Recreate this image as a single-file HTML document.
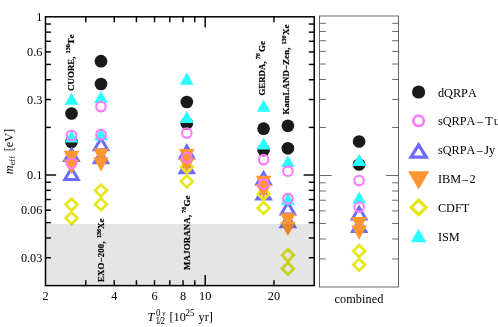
<!DOCTYPE html>
<html><head><meta charset="utf-8"><title>meff</title>
<style>html,body{margin:0;padding:0;background:#fff;}body{width:498px;height:327px;position:relative;overflow:hidden;font-family:"Liberation Serif",serif;}</style></head>
<body>
<svg width="498" height="327" viewBox="0 0 498 327" style="display:block;position:absolute;left:0;top:0;will-change:transform;font-kerning:none;font-variant-ligatures:none">
<circle cx="71.5" cy="113.5" r="6.35" fill="#1a1a1a"/>
<circle cx="71.5" cy="142" r="6.35" fill="#1a1a1a"/>
<circle cx="101" cy="61.2" r="6.35" fill="#1a1a1a"/>
<circle cx="101" cy="84" r="6.35" fill="#1a1a1a"/>
<circle cx="186.8" cy="102" r="6.35" fill="#1a1a1a"/>
<circle cx="186.8" cy="123.3" r="6.35" fill="#1a1a1a"/>
<circle cx="263.6" cy="128.7" r="6.35" fill="#1a1a1a"/>
<circle cx="263.6" cy="150.1" r="6.35" fill="#1a1a1a"/>
<circle cx="287.9" cy="125.8" r="6.35" fill="#1a1a1a"/>
<circle cx="287.9" cy="148.3" r="6.35" fill="#1a1a1a"/>
<circle cx="359.1" cy="141.5" r="6.35" fill="#1a1a1a"/>
<circle cx="359.1" cy="164.5" r="6.35" fill="#1a1a1a"/>
<polygon points="71.5,149.2 64.8,160.6 78.2,160.6" fill="none" stroke="#6c6cff" stroke-width="3" stroke-linejoin="miter" stroke-miterlimit="10"/>
<polygon points="71.5,168.2 64.8,179.6 78.2,179.6" fill="none" stroke="#6c6cff" stroke-width="3" stroke-linejoin="miter" stroke-miterlimit="10"/>
<polygon points="101,138.4 94.3,149.8 107.7,149.8" fill="none" stroke="#6c6cff" stroke-width="3" stroke-linejoin="miter" stroke-miterlimit="10"/>
<polygon points="101,151.4 94.3,162.8 107.7,162.8" fill="none" stroke="#6c6cff" stroke-width="3" stroke-linejoin="miter" stroke-miterlimit="10"/>
<polygon points="186.8,146.1 180.1,158.1 193.5,158.1" fill="none" stroke="#6c6cff" stroke-width="3" stroke-linejoin="miter" stroke-miterlimit="10"/>
<polygon points="186.8,161.3 180.1,172.8 193.5,172.8" fill="none" stroke="#6c6cff" stroke-width="3" stroke-linejoin="miter" stroke-miterlimit="10"/>
<polygon points="263.6,172.6 256.9,184 270.3,184" fill="none" stroke="#6c6cff" stroke-width="3" stroke-linejoin="miter" stroke-miterlimit="10"/>
<polygon points="263.6,187.5 256.9,199 270.3,199" fill="none" stroke="#6c6cff" stroke-width="3" stroke-linejoin="miter" stroke-miterlimit="10"/>
<polygon points="287.9,202.5 281.2,214 294.6,214" fill="none" stroke="#6c6cff" stroke-width="3" stroke-linejoin="miter" stroke-miterlimit="10"/>
<polygon points="287.9,215.2 281.2,226.7 294.6,226.7" fill="none" stroke="#6c6cff" stroke-width="3" stroke-linejoin="miter" stroke-miterlimit="10"/>
<polygon points="359.1,207.3 352.4,219 365.8,219" fill="none" stroke="#6c6cff" stroke-width="3" stroke-linejoin="miter" stroke-miterlimit="10"/>
<polygon points="359.1,220 352.4,231.5 365.8,231.5" fill="none" stroke="#6c6cff" stroke-width="3" stroke-linejoin="miter" stroke-miterlimit="10"/>
<polygon points="71.5,198.71 77.39,204.6 71.5,210.49 65.61,204.6" fill="none" stroke="#e6e61a" stroke-width="2.7" stroke-linejoin="miter"/>
<polygon points="71.5,212.31 77.39,218.2 71.5,224.09 65.61,218.2" fill="none" stroke="#e6e61a" stroke-width="2.7" stroke-linejoin="miter"/>
<polygon points="101,184.61 106.89,190.5 101,196.39 95.11,190.5" fill="none" stroke="#e6e61a" stroke-width="2.7" stroke-linejoin="miter"/>
<polygon points="101,198.41 106.89,204.3 101,210.19 95.11,204.3" fill="none" stroke="#e6e61a" stroke-width="2.7" stroke-linejoin="miter"/>
<polygon points="186.8,161.01 192.69,166.9 186.8,172.79 180.91,166.9" fill="none" stroke="#e6e61a" stroke-width="2.7" stroke-linejoin="miter"/>
<polygon points="186.8,175.61 192.69,181.5 186.8,187.39 180.91,181.5" fill="none" stroke="#e6e61a" stroke-width="2.7" stroke-linejoin="miter"/>
<polygon points="263.6,188.11 269.49,194 263.6,199.89 257.71,194" fill="none" stroke="#e6e61a" stroke-width="2.7" stroke-linejoin="miter"/>
<polygon points="263.6,202.11 269.49,208 263.6,213.89 257.71,208" fill="none" stroke="#e6e61a" stroke-width="2.7" stroke-linejoin="miter"/>
<polygon points="287.9,249.31 293.79,255.2 287.9,261.09 282.01,255.2" fill="none" stroke="#e6e61a" stroke-width="2.7" stroke-linejoin="miter"/>
<polygon points="287.9,262.71 293.79,268.6 287.9,274.49 282.01,268.6" fill="none" stroke="#e6e61a" stroke-width="2.7" stroke-linejoin="miter"/>
<polygon points="359.1,245.21 364.99,251.1 359.1,256.99 353.21,251.1" fill="none" stroke="#e6e61a" stroke-width="2.7" stroke-linejoin="miter"/>
<polygon points="359.1,258.81 364.99,264.7 359.1,270.59 353.21,264.7" fill="none" stroke="#e6e61a" stroke-width="2.7" stroke-linejoin="miter"/>
<polygon points="63.7,150.7 79.3,150.7 71.5,165.1" fill="#ff9632"/>
<polygon points="63.7,159.5 79.3,159.5 71.5,173.9" fill="#ff9632"/>
<polygon points="93.2,148.4 108.8,148.4 101,162.9" fill="#ff9632"/>
<polygon points="93.2,157.2 108.8,157.2 101,171.6" fill="#ff9632"/>
<polygon points="179,148.9 194.6,148.9 186.8,163.3" fill="#ff9632"/>
<polygon points="179,158 194.6,158 186.8,172" fill="#ff9632"/>
<polygon points="255.8,175.8 271.4,175.8 263.6,190.2" fill="#ff9632"/>
<polygon points="255.8,184 271.4,184 263.6,198.3" fill="#ff9632"/>
<polygon points="280.1,213.3 295.7,213.3 287.9,227.7" fill="#ff9632"/>
<polygon points="280.1,222.1 295.7,222.1 287.9,235.9" fill="#ff9632"/>
<polygon points="351.3,216.9 366.9,216.9 359.1,231.3" fill="#ff9632"/>
<polygon points="351.3,225.4 366.9,225.4 359.1,239.7" fill="#ff9632"/>
<polygon points="71.5,92.9 64.6,104.8 78.4,104.8" fill="#2affff"/>
<polygon points="71.5,130.5 64.6,142.4 78.4,142.4" fill="#2affff"/>
<polygon points="101,91.1 94.1,103 107.9,103" fill="#2affff"/>
<polygon points="101,128.3 94.1,140.2 107.9,140.2" fill="#2affff"/>
<polygon points="186.8,72.6 179.9,84.8 193.7,84.8" fill="#2affff"/>
<polygon points="186.8,111 179.9,123 193.7,123" fill="#2affff"/>
<polygon points="263.6,99.7 256.7,111.65 270.5,111.65" fill="#2affff"/>
<polygon points="263.6,137.6 256.7,149.6 270.5,149.6" fill="#2affff"/>
<polygon points="287.9,155.6 281,167.1 294.8,167.1" fill="#2affff"/>
<polygon points="287.9,192.8 281,204.7 294.8,204.7" fill="#2affff"/>
<polygon points="359.1,153.8 352.2,165.9 366,165.9" fill="#2affff"/>
<polygon points="359.1,191.6 352.2,203.5 366,203.5" fill="#2affff"/>
<circle cx="71.5" cy="135.5" r="4.8" fill="none" stroke="#ff78ff" stroke-width="2.1"/>
<circle cx="71.5" cy="163.3" r="4.8" fill="none" stroke="#ff78ff" stroke-width="2.1"/>
<circle cx="101" cy="106.6" r="4.8" fill="none" stroke="#ff78ff" stroke-width="2.1"/>
<circle cx="101" cy="134.7" r="4.8" fill="none" stroke="#ff78ff" stroke-width="2.1"/>
<circle cx="186.8" cy="133" r="4.8" fill="none" stroke="#ff78ff" stroke-width="2.1"/>
<circle cx="186.8" cy="157.5" r="4.8" fill="none" stroke="#ff78ff" stroke-width="2.1"/>
<circle cx="263.6" cy="159.6" r="4.8" fill="none" stroke="#ff78ff" stroke-width="2.1"/>
<circle cx="263.6" cy="184.2" r="4.8" fill="none" stroke="#ff78ff" stroke-width="2.1"/>
<circle cx="287.9" cy="171.2" r="4.8" fill="none" stroke="#ff78ff" stroke-width="2.1"/>
<circle cx="287.9" cy="198.7" r="4.8" fill="none" stroke="#ff78ff" stroke-width="2.1"/>
<circle cx="359.1" cy="180.6" r="4.8" fill="none" stroke="#ff78ff" stroke-width="2.1"/>
<circle cx="359.1" cy="207.1" r="4.8" fill="none" stroke="#ff78ff" stroke-width="2.1"/>
<rect x="45.5" y="224" width="267.7" height="61.6" fill="#000" fill-opacity="0.1"/>
<text transform="translate(73.6,90.9) rotate(-90)" font-family="Liberation Serif, serif" font-weight="bold" fill="#000" stroke="#000" stroke-width="0.2" font-size="8.8" textLength="34.4" lengthAdjust="spacing">CUORE,</text>
<text transform="translate(69.8,53.3) rotate(-90)" font-family="Liberation Serif, serif" font-weight="bold" fill="#000" stroke="#000" stroke-width="0.2" font-size="7.0" textLength="9.15" lengthAdjust="spacingAndGlyphs" style="stroke-width:0.25">130</text>
<text transform="translate(73.6,44.5) rotate(-90)" font-family="Liberation Serif, serif" font-weight="bold" fill="#000" stroke="#000" stroke-width="0.2" font-size="9.1">Te</text>
<text transform="translate(104,282) rotate(-90)" font-family="Liberation Serif, serif" font-weight="bold" fill="#000" stroke="#000" stroke-width="0.2" font-size="8.8" textLength="40.6" lengthAdjust="spacing">EXO−200,</text>
<text transform="translate(101,238) rotate(-90)" font-family="Liberation Serif, serif" font-weight="bold" fill="#000" stroke="#000" stroke-width="0.2" font-size="7.0" textLength="9.15" lengthAdjust="spacingAndGlyphs" style="stroke-width:0.25">136</text>
<text transform="translate(104,229.1) rotate(-90)" font-family="Liberation Serif, serif" font-weight="bold" fill="#000" stroke="#000" stroke-width="0.2" font-size="9.1">Xe</text>
<text transform="translate(190.1,269.9) rotate(-90)" font-family="Liberation Serif, serif" font-weight="bold" fill="#000" stroke="#000" stroke-width="0.2" font-size="8.8" textLength="55" lengthAdjust="spacing">MAJORANA,</text>
<text transform="translate(185.8,212.9) rotate(-90)" font-family="Liberation Serif, serif" font-weight="bold" fill="#000" stroke="#000" stroke-width="0.2" font-size="7.0" textLength="6.1" lengthAdjust="spacingAndGlyphs" style="stroke-width:0.25">76</text>
<text transform="translate(190.1,206.6) rotate(-90)" font-family="Liberation Serif, serif" font-weight="bold" fill="#000" stroke="#000" stroke-width="0.2" font-size="9.1">Ge</text>
<text transform="translate(264.5,95.6) rotate(-90)" font-family="Liberation Serif, serif" font-weight="bold" fill="#000" stroke="#000" stroke-width="0.2" font-size="8.8" textLength="34.2" lengthAdjust="spacing">GERDA,</text>
<text transform="translate(260.2,59.2) rotate(-90)" font-family="Liberation Serif, serif" font-weight="bold" fill="#000" stroke="#000" stroke-width="0.2" font-size="7.0" textLength="6.1" lengthAdjust="spacingAndGlyphs" style="stroke-width:0.25">76</text>
<text transform="translate(264.5,52.1) rotate(-90)" font-family="Liberation Serif, serif" font-weight="bold" fill="#000" stroke="#000" stroke-width="0.2" font-size="9.1">Ge</text>
<text transform="translate(288.8,114.6) rotate(-90)" font-family="Liberation Serif, serif" font-weight="bold" fill="#000" stroke="#000" stroke-width="0.2" font-size="8.8" textLength="67" lengthAdjust="spacing">KamLAND−Zen,</text>
<text transform="translate(285.7,44.5) rotate(-90)" font-family="Liberation Serif, serif" font-weight="bold" fill="#000" stroke="#000" stroke-width="0.2" font-size="7.0" textLength="9.15" lengthAdjust="spacingAndGlyphs" style="stroke-width:0.25">136</text>
<text transform="translate(288.8,35.1) rotate(-90)" font-family="Liberation Serif, serif" font-weight="bold" fill="#000" stroke="#000" stroke-width="0.2" font-size="9.1">Xe</text>
<line x1="45.5" y1="24.04" x2="50.9" y2="24.04" stroke="#000" stroke-width="1.45"/>
<line x1="314.2" y1="24.04" x2="308.8" y2="24.04" stroke="#000" stroke-width="1.45"/>
<line x1="45.5" y1="32.13" x2="50.9" y2="32.13" stroke="#000" stroke-width="1.45"/>
<line x1="314.2" y1="32.13" x2="308.8" y2="32.13" stroke="#000" stroke-width="1.45"/>
<line x1="45.5" y1="41.31" x2="50.9" y2="41.31" stroke="#000" stroke-width="1.45"/>
<line x1="314.2" y1="41.31" x2="308.8" y2="41.31" stroke="#000" stroke-width="1.45"/>
<line x1="45.5" y1="51.9" x2="50.9" y2="51.9" stroke="#000" stroke-width="1.45"/>
<line x1="314.2" y1="51.9" x2="308.8" y2="51.9" stroke="#000" stroke-width="1.45"/>
<line x1="45.5" y1="64.43" x2="50.9" y2="64.43" stroke="#000" stroke-width="1.45"/>
<line x1="314.2" y1="64.43" x2="308.8" y2="64.43" stroke="#000" stroke-width="1.45"/>
<line x1="45.5" y1="79.76" x2="50.9" y2="79.76" stroke="#000" stroke-width="1.45"/>
<line x1="314.2" y1="79.76" x2="308.8" y2="79.76" stroke="#000" stroke-width="1.45"/>
<line x1="45.5" y1="99.53" x2="50.9" y2="99.53" stroke="#000" stroke-width="1.45"/>
<line x1="314.2" y1="99.53" x2="308.8" y2="99.53" stroke="#000" stroke-width="1.45"/>
<line x1="45.5" y1="127.39" x2="50.9" y2="127.39" stroke="#000" stroke-width="1.45"/>
<line x1="314.2" y1="127.39" x2="308.8" y2="127.39" stroke="#000" stroke-width="1.45"/>
<line x1="45.5" y1="175.01" x2="56.1" y2="175.01" stroke="#000" stroke-width="1.45"/>
<line x1="314.2" y1="175.01" x2="303.6" y2="175.01" stroke="#000" stroke-width="1.45"/>
<line x1="45.5" y1="182.25" x2="50.9" y2="182.25" stroke="#000" stroke-width="1.45"/>
<line x1="314.2" y1="182.25" x2="308.8" y2="182.25" stroke="#000" stroke-width="1.45"/>
<line x1="45.5" y1="190.35" x2="50.9" y2="190.35" stroke="#000" stroke-width="1.45"/>
<line x1="314.2" y1="190.35" x2="308.8" y2="190.35" stroke="#000" stroke-width="1.45"/>
<line x1="45.5" y1="199.52" x2="50.9" y2="199.52" stroke="#000" stroke-width="1.45"/>
<line x1="314.2" y1="199.52" x2="308.8" y2="199.52" stroke="#000" stroke-width="1.45"/>
<line x1="45.5" y1="210.11" x2="50.9" y2="210.11" stroke="#000" stroke-width="1.45"/>
<line x1="314.2" y1="210.11" x2="308.8" y2="210.11" stroke="#000" stroke-width="1.45"/>
<line x1="45.5" y1="222.64" x2="50.9" y2="222.64" stroke="#000" stroke-width="1.45"/>
<line x1="314.2" y1="222.64" x2="308.8" y2="222.64" stroke="#000" stroke-width="1.45"/>
<line x1="45.5" y1="237.97" x2="50.9" y2="237.97" stroke="#000" stroke-width="1.45"/>
<line x1="314.2" y1="237.97" x2="308.8" y2="237.97" stroke="#000" stroke-width="1.45"/>
<line x1="45.5" y1="257.74" x2="50.9" y2="257.74" stroke="#000" stroke-width="1.45"/>
<line x1="314.2" y1="257.74" x2="308.8" y2="257.74" stroke="#000" stroke-width="1.45"/>
<line x1="85.73" y1="285.6" x2="85.73" y2="280.2" stroke="#000" stroke-width="1.45"/>
<line x1="85.73" y1="16.8" x2="85.73" y2="22.2" stroke="#000" stroke-width="1.45"/>
<line x1="114.28" y1="285.6" x2="114.28" y2="280.2" stroke="#000" stroke-width="1.45"/>
<line x1="114.28" y1="16.8" x2="114.28" y2="22.2" stroke="#000" stroke-width="1.45"/>
<line x1="136.42" y1="285.6" x2="136.42" y2="280.2" stroke="#000" stroke-width="1.45"/>
<line x1="136.42" y1="16.8" x2="136.42" y2="22.2" stroke="#000" stroke-width="1.45"/>
<line x1="154.51" y1="285.6" x2="154.51" y2="280.2" stroke="#000" stroke-width="1.45"/>
<line x1="154.51" y1="16.8" x2="154.51" y2="22.2" stroke="#000" stroke-width="1.45"/>
<line x1="169.8" y1="285.6" x2="169.8" y2="280.2" stroke="#000" stroke-width="1.45"/>
<line x1="169.8" y1="16.8" x2="169.8" y2="22.2" stroke="#000" stroke-width="1.45"/>
<line x1="183.05" y1="285.6" x2="183.05" y2="280.2" stroke="#000" stroke-width="1.45"/>
<line x1="183.05" y1="16.8" x2="183.05" y2="22.2" stroke="#000" stroke-width="1.45"/>
<line x1="194.74" y1="285.6" x2="194.74" y2="280.2" stroke="#000" stroke-width="1.45"/>
<line x1="194.74" y1="16.8" x2="194.74" y2="22.2" stroke="#000" stroke-width="1.45"/>
<line x1="205.19" y1="285.6" x2="205.19" y2="275" stroke="#000" stroke-width="1.45"/>
<line x1="205.19" y1="16.8" x2="205.19" y2="27.4" stroke="#000" stroke-width="1.45"/>
<line x1="273.97" y1="285.6" x2="273.97" y2="280.2" stroke="#000" stroke-width="1.45"/>
<line x1="273.97" y1="16.8" x2="273.97" y2="22.2" stroke="#000" stroke-width="1.45"/>
<rect x="45.5" y="16.8" width="268.7" height="268.8" fill="none" stroke="#000" stroke-width="1.5"/>
<line x1="319.5" y1="23.3" x2="325.8" y2="23.3" stroke="#444" stroke-width="0.8"/>
<line x1="398.5" y1="23.3" x2="392.2" y2="23.3" stroke="#444" stroke-width="0.8"/>
<line x1="319.5" y1="31.46" x2="325.8" y2="31.46" stroke="#444" stroke-width="0.8"/>
<line x1="398.5" y1="31.46" x2="392.2" y2="31.46" stroke="#444" stroke-width="0.8"/>
<line x1="319.5" y1="40.71" x2="325.8" y2="40.71" stroke="#444" stroke-width="0.8"/>
<line x1="398.5" y1="40.71" x2="392.2" y2="40.71" stroke="#444" stroke-width="0.8"/>
<line x1="319.5" y1="51.39" x2="325.8" y2="51.39" stroke="#444" stroke-width="0.8"/>
<line x1="398.5" y1="51.39" x2="392.2" y2="51.39" stroke="#444" stroke-width="0.8"/>
<line x1="319.5" y1="64.02" x2="325.8" y2="64.02" stroke="#444" stroke-width="0.8"/>
<line x1="398.5" y1="64.02" x2="392.2" y2="64.02" stroke="#444" stroke-width="0.8"/>
<line x1="319.5" y1="79.47" x2="325.8" y2="79.47" stroke="#444" stroke-width="0.8"/>
<line x1="398.5" y1="79.47" x2="392.2" y2="79.47" stroke="#444" stroke-width="0.8"/>
<line x1="319.5" y1="99.4" x2="325.8" y2="99.4" stroke="#444" stroke-width="0.8"/>
<line x1="398.5" y1="99.4" x2="392.2" y2="99.4" stroke="#444" stroke-width="0.8"/>
<line x1="319.5" y1="127.49" x2="325.8" y2="127.49" stroke="#444" stroke-width="0.8"/>
<line x1="398.5" y1="127.49" x2="392.2" y2="127.49" stroke="#444" stroke-width="0.8"/>
<line x1="319.5" y1="175.51" x2="331.8" y2="175.51" stroke="#444" stroke-width="0.8"/>
<line x1="398.5" y1="175.51" x2="386.2" y2="175.51" stroke="#444" stroke-width="0.8"/>
<line x1="319.5" y1="182.81" x2="325.8" y2="182.81" stroke="#444" stroke-width="0.8"/>
<line x1="398.5" y1="182.81" x2="392.2" y2="182.81" stroke="#444" stroke-width="0.8"/>
<line x1="319.5" y1="190.97" x2="325.8" y2="190.97" stroke="#444" stroke-width="0.8"/>
<line x1="398.5" y1="190.97" x2="392.2" y2="190.97" stroke="#444" stroke-width="0.8"/>
<line x1="319.5" y1="200.22" x2="325.8" y2="200.22" stroke="#444" stroke-width="0.8"/>
<line x1="398.5" y1="200.22" x2="392.2" y2="200.22" stroke="#444" stroke-width="0.8"/>
<line x1="319.5" y1="210.9" x2="325.8" y2="210.9" stroke="#444" stroke-width="0.8"/>
<line x1="398.5" y1="210.9" x2="392.2" y2="210.9" stroke="#444" stroke-width="0.8"/>
<line x1="319.5" y1="223.53" x2="325.8" y2="223.53" stroke="#444" stroke-width="0.8"/>
<line x1="398.5" y1="223.53" x2="392.2" y2="223.53" stroke="#444" stroke-width="0.8"/>
<line x1="319.5" y1="238.98" x2="325.8" y2="238.98" stroke="#444" stroke-width="0.8"/>
<line x1="398.5" y1="238.98" x2="392.2" y2="238.98" stroke="#444" stroke-width="0.8"/>
<line x1="319.5" y1="258.91" x2="325.8" y2="258.91" stroke="#444" stroke-width="0.8"/>
<line x1="398.5" y1="258.91" x2="392.2" y2="258.91" stroke="#444" stroke-width="0.8"/>
<rect x="319.5" y="16" width="79" height="271" fill="none" stroke="#444" stroke-width="0.8"/>
<text transform="translate(42.4,20.8) scale(1,1.07)" font-family="Liberation Serif, serif" font-size="12.3" text-anchor="end" fill="#000" >1</text>
<text transform="translate(42.4,55.9) scale(1,1.07)" font-family="Liberation Serif, serif" font-size="12.3" text-anchor="end" fill="#000" >0.6</text>
<text transform="translate(42.4,103.53) scale(1,1.07)" font-family="Liberation Serif, serif" font-size="12.3" text-anchor="end" fill="#000" >0.3</text>
<text transform="translate(42.4,179.01) scale(1,1.07)" font-family="Liberation Serif, serif" font-size="12.3" text-anchor="end" fill="#000" >0.1</text>
<text transform="translate(42.4,214.11) scale(1,1.07)" font-family="Liberation Serif, serif" font-size="12.3" text-anchor="end" fill="#000" >0.06</text>
<text transform="translate(42.4,261.74) scale(1,1.07)" font-family="Liberation Serif, serif" font-size="12.3" text-anchor="end" fill="#000" >0.03</text>
<text transform="translate(45.5,299.6) scale(1,1.07)" font-family="Liberation Serif, serif" font-size="12.3" text-anchor="middle" fill="#000" >2</text>
<text transform="translate(114.28,299.6) scale(1,1.07)" font-family="Liberation Serif, serif" font-size="12.3" text-anchor="middle" fill="#000" >4</text>
<text transform="translate(154.51,299.6) scale(1,1.07)" font-family="Liberation Serif, serif" font-size="12.3" text-anchor="middle" fill="#000" >6</text>
<text transform="translate(183.05,299.6) scale(1,1.07)" font-family="Liberation Serif, serif" font-size="12.3" text-anchor="middle" fill="#000" >8</text>
<text transform="translate(205.19,299.6) scale(1,1.07)" font-family="Liberation Serif, serif" font-size="12.3" text-anchor="middle" fill="#000" >10</text>
<text transform="translate(273.97,299.6) scale(1,1.07)" font-family="Liberation Serif, serif" font-size="12.3" text-anchor="middle" fill="#000" >20</text>
<text transform="translate(334.4,303.4) scale(1,1.07)" font-family="Liberation Serif, serif" font-size="12.3" text-anchor="start" fill="#000" textLength="49.0" lengthAdjust="spacing">combined</text>
<text transform="translate(12.7,174.3) rotate(-90) scale(1,1.07)" font-family="Liberation Serif, serif" font-size="12.3" fill="#000"><tspan font-style="italic">m</tspan><tspan font-size="8.5" dy="1.8">eff</tspan><tspan dy="-1.8" dx="1.6"> [eV]</tspan></text>
<text transform="translate(147.5,320.9) scale(1,1.07)" font-family="Liberation Serif, serif" font-size="12.3" fill="#000"><tspan font-style="italic">T</tspan></text>
<text transform="translate(156,316) scale(1,1.07)" font-family="Liberation Serif, serif" font-size="9" text-anchor="start" fill="#000" >0</text>
<text transform="translate(162.3,316) scale(1,1.07)" font-family="Liberation Serif, serif" font-size="7" text-anchor="start" fill="#000" font-style="italic">ν</text>
<text transform="translate(155.4,324.3) scale(1,1.07)" font-family="Liberation Serif, serif" font-size="9.2" text-anchor="start" fill="#000" textLength="9.6" lengthAdjust="spacing">1/2</text>
<text transform="translate(169.4,320.9) scale(1,1.07)" font-family="Liberation Serif, serif" font-size="12.3" text-anchor="start" fill="#000" >[10</text>
<text transform="translate(185.6,316.4) scale(1,1.07)" font-family="Liberation Serif, serif" font-size="9" text-anchor="start" fill="#000" >25</text>
<text transform="translate(198.6,320.9) scale(1,1.07)" font-family="Liberation Serif, serif" font-size="12.3" text-anchor="start" fill="#000" >yr]</text>
<circle cx="418.6" cy="92" r="6.6" fill="#1a1a1a"/>
<circle cx="418.6" cy="120.8" r="5.2" fill="none" stroke="#ff78ff" stroke-width="2.65"/>
<polygon points="418.6,144.9 411.01,157.05 426.19,157.05" fill="none" stroke="#6c6cff" stroke-width="3.3" stroke-linejoin="miter" stroke-miterlimit="10"/>
<polygon points="408,171.2 429.2,171.2 418.6,189.6" fill="#ff9632"/>
<polygon points="418.6,200.03 425.97,207.4 418.6,214.77 411.23,207.4" fill="none" stroke="#e6e61a" stroke-width="3.3" stroke-linejoin="miter"/>
<polygon points="418.6,229 410.65,242.2 426.55,242.2" fill="#2affff"/>
<text transform="translate(437.9,96.8) scale(1,1.07)" font-family="Liberation Serif, serif" font-size="12.3" fill="#000">dQRPA</text>
<text transform="translate(437.9,125.1) scale(1,1.07)" font-family="Liberation Serif, serif" font-size="12.3" fill="#000">sQRPA<tspan dx="1.4">–</tspan><tspan dx="2.3">T</tspan><tspan dx="0.9">u</tspan></text>
<text transform="translate(437.9,153.5) scale(1,1.07)" font-family="Liberation Serif, serif" font-size="12.3" fill="#000">sQRPA<tspan dx="1.4">–</tspan><tspan dx="1.3">Jy</tspan></text>
<text transform="translate(437.9,182.7) scale(1,1.07)" font-family="Liberation Serif, serif" font-size="12.3" fill="#000">IBM<tspan dx="0.9">–</tspan><tspan dx="1.3">2</tspan></text>
<text transform="translate(437.9,211.5) scale(1,1.07)" font-family="Liberation Serif, serif" font-size="12.3" fill="#000">CDFT</text>
<text transform="translate(437.9,240.7) scale(1,1.07)" font-family="Liberation Serif, serif" font-size="12.3" fill="#000">ISM</text>
</svg>
</body></html>
